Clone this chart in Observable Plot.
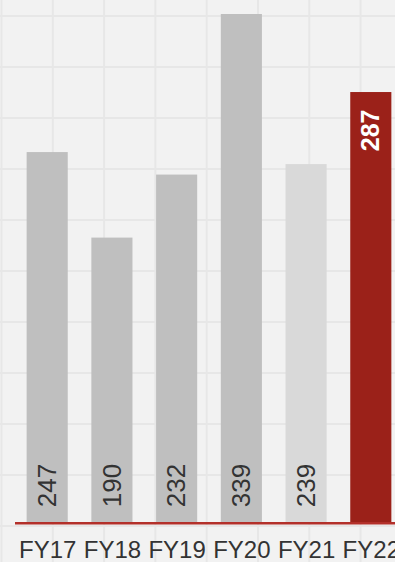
<!DOCTYPE html>
<html>
<head>
<meta charset="utf-8">
<script src="https://cdn.jsdelivr.net/npm/d3@7"></script>
<script src="https://cdn.jsdelivr.net/npm/@observablehq/plot@0.6"></script>
<style>
  html, body {
    margin: 0;
    padding: 0;
    width: 395px;
    height: 562px;
    overflow: hidden;
  }
  body {
    background-color: #f2f2f2;
    background-image:
      linear-gradient(to right, #e7e7e7 2px, transparent 2px),
      linear-gradient(to bottom, #e7e7e7 2px, transparent 2px);
    background-size: 51.3px 51px;
    background-position: 0.5px 15px;
  }
</style>
</head>
<body>
<div id="chart"></div>
<script>
const years = ["FY17", "FY18", "FY19", "FY20", "FY21", "FY22"];
const values = [247, 190, 232, 339, 239, 287];
const highlightYear = "FY22";
const lightYear = "FY21";

const data = years.map((year, i) => ({year, value: values[i]}));

const RED = "#9b2119";
const GRAY = "#bfbfbf";
const LIGHT = "#d9d9d9";
const fillFor = d => d.year === highlightYear ? RED : d.year === lightYear ? LIGHT : GRAY;

const plain = data.filter(d => d.year !== highlightYear);
const hi = data.filter(d => d.year === highlightYear);

const chart = Plot.plot({
  width: 403,
  height: 562,
  marginTop: 14,
  marginBottom: 39.3,
  marginLeft: 15,
  marginRight: 0,
  style: {
    background: "transparent",
    maxWidth: "none",
    overflow: "visible",
    fontFamily: "'Liberation Sans', Arial, sans-serif"
  },
  x: {domain: years, paddingInner: 0.365, paddingOuter: 0.18, align: 0.5, round: false, label: null},
  y: {domain: [0, d3.max(values)], axis: null, label: null},
  marks: [
    Plot.barY(data, {x: "year", y: "value", fill: fillFor}),
    Plot.ruleY([0], {stroke: "#b3302a", strokeWidth: 2.5}),
    Plot.text(plain, {
      x: "year", y: () => 0, text: d => String(d.value),
      rotate: -90, textAnchor: "start", lineAnchor: "middle",
      dy: -16, fontSize: 26, fill: "#333"
    }),
    Plot.text(hi, {
      x: "year", y: "value", text: d => String(d.value),
      rotate: -90, textAnchor: "end", lineAnchor: "middle",
      dy: 17, fontSize: 25, fontWeight: "bold", fill: "white"
    }),
    Plot.axisX({tickSize: 0, tickPadding: 18, fontSize: 24, fill: "#333", label: null})
  ]
});
document.getElementById("chart").appendChild(chart);
</script>
</body>
</html>
